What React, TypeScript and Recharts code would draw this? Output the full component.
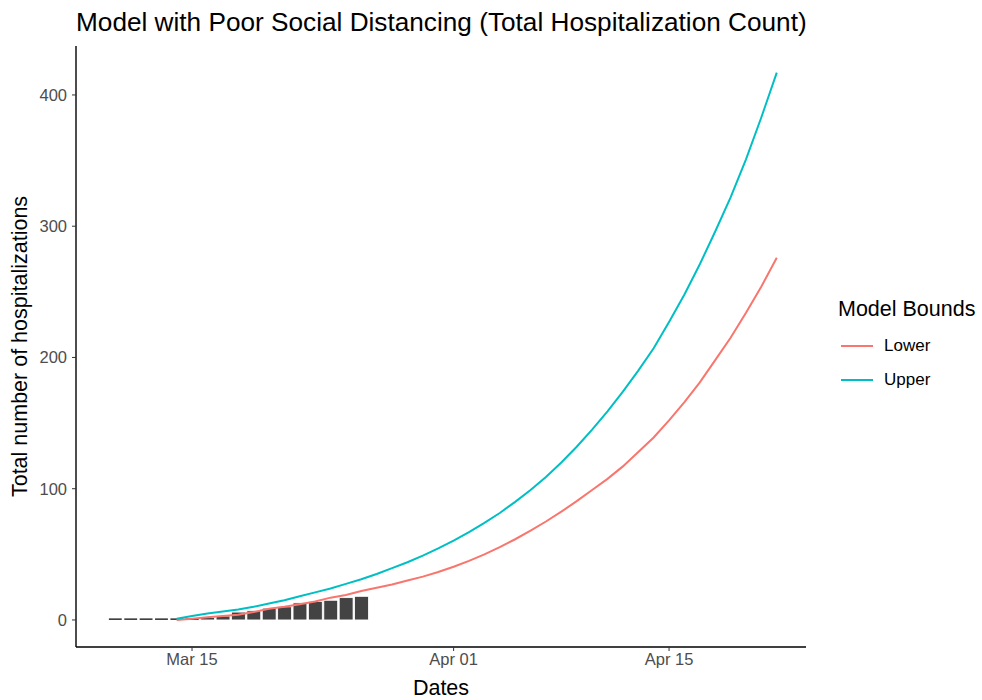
import React from 'react';
import { ComposedChart, Bar, Line, XAxis, YAxis } from 'recharts';

// Observed cumulative hospitalizations (bars)
const barDates = [
  '2020-03-10', '2020-03-11', '2020-03-12', '2020-03-13', '2020-03-14', '2020-03-15',
  '2020-03-16', '2020-03-17', '2020-03-18', '2020-03-19', '2020-03-20', '2020-03-21',
  '2020-03-22', '2020-03-23', '2020-03-24', '2020-03-25', '2020-03-26',
];
const barCounts = [0, 0, 0, 0, 1, 1, 2, 3, 6, 7, 9, 10, 13, 14, 15, 17, 18];

// Model bounds (lines)
const lineDates = [
  '2020-03-14', '2020-03-15', '2020-03-16', '2020-03-17', '2020-03-18', '2020-03-19',
  '2020-03-20', '2020-03-21', '2020-03-22', '2020-03-23', '2020-03-24', '2020-03-25',
  '2020-03-26', '2020-03-27', '2020-03-28', '2020-03-29', '2020-03-30', '2020-03-31',
  '2020-04-01', '2020-04-02', '2020-04-03', '2020-04-04', '2020-04-05', '2020-04-06',
  '2020-04-07', '2020-04-08', '2020-04-09', '2020-04-10', '2020-04-11', '2020-04-12',
  '2020-04-13', '2020-04-14', '2020-04-15', '2020-04-16', '2020-04-17', '2020-04-18',
  '2020-04-19', '2020-04-20', '2020-04-21', '2020-04-22',
];
const lowerValues = [
  0, 1, 2, 3, 4, 6, 8.5, 10, 12, 14, 17, 19, 22, 24.5, 27, 30, 33, 36.5,
  40.5, 45, 50, 55.5, 61.5, 68, 75, 82.5, 90.5, 99, 107.5, 117, 128, 139, 152, 166,
  181, 198, 215, 234, 254, 276,
];
const upperValues = [
  1, 3, 5, 6.5, 8, 10, 12.5, 15, 18, 21, 24, 27.5, 31, 35, 39.5, 44, 49, 54.5,
  60.5, 67, 74, 81.5, 90, 99, 109, 120, 132, 145, 159, 174, 190, 207, 227, 248,
  271, 296, 322, 351, 383, 417,
];

// Axis ticks
const xTickDates = ['2020-03-15', '2020-04-01', '2020-04-15'];
const xTickLabels = ['Mar 15', 'Apr 01', 'Apr 15'];
const yTicks = [0, 100, 200, 300, 400];

const REF = Date.UTC(2020, 2, 15);
const toDay = (s: string) => {
  const [y, m, d] = s.split('-').map(Number);
  return Math.round((Date.UTC(y, m - 1, d) - REF) / 86400000);
};

const dayMap = new Map<number, any>();
barDates.forEach((d, i) => {
  const k = toDay(d);
  dayMap.set(k, { ...(dayMap.get(k) || { day: k }), count: barCounts[i] });
});
lineDates.forEach((d, i) => {
  const k = toDay(d);
  dayMap.set(k, { ...(dayMap.get(k) || { day: k }), lower: lowerValues[i], upper: upperValues[i] });
});
const data = Array.from(dayMap.values()).sort((a, b) => a.day - b.day);

const xTicks = xTickDates.map(toDay);
const tickLabelFor = (v: number) => xTickLabels[xTicks.indexOf(v)] ?? '';

const FONT = '"Liberation Sans", Arial, Helvetica, sans-serif';
const RED = '#F8766D';
const TEAL = '#00BFC4';

const BarShape = (props: any) => {
  const { x, y, width, height } = props;
  if (x == null || width == null) return null;
  const bottom = y + height;
  if (height < 2) {
    return <rect x={x + 0.5} y={bottom - 1.6} width={width - 1} height={1.6} fill="#3a3a3a" />;
  }
  return <rect x={x} y={y} width={width} height={height} fill="#434343" stroke="#ffffff" strokeWidth={0.8} />;
};

export default function App() {
  return (
    <div style={{ position: 'absolute', left: 0, top: 0, width: 982, height: 700, background: '#fff', fontFamily: FONT }}>
      <div style={{ position: 'absolute', left: 76, top: 9, fontSize: 26.2, lineHeight: '26px', color: '#000', whiteSpace: 'nowrap' }}>
        Model with Poor Social Distancing (Total Hospitalization Count)
      </div>
      <ComposedChart
        width={982}
        height={700}
        data={data}
        margin={{ top: 46, right: 176, bottom: 0, left: 0 }}
        style={{ position: 'absolute', left: 0, top: 0 }}
      >
        <XAxis
          dataKey="day"
          type="number"
          domain={[-7.54, 39.9]}
          ticks={xTicks}
          tickFormatter={tickLabelFor}
          allowDataOverflow
          height={53}
          tickSize={4}
          tickMargin={2}
          stroke="#000"
          strokeWidth={1.4}
          tick={{ fontSize: 16.5, fill: '#4d4d4d', fontFamily: FONT }}
          tickLine={{ stroke: '#333', strokeWidth: 1 }}
          label={{
            content: (p: any) => {
              const vb = p.viewBox;
              return (
                <text x={vb.x + vb.width / 2} y={vb.y + 48} textAnchor="middle" fontSize={21.5} fill="#000" fontFamily={FONT}>
                  Dates
                </text>
              );
            },
          }}
        />
        <YAxis
          type="number"
          domain={[-20.6, 437.3]}
          ticks={yTicks}
          allowDataOverflow
          width={76}
          tickSize={4}
          tickMargin={5}
          stroke="#000"
          strokeWidth={1.4}
          tick={{ fontSize: 16.5, fill: '#4d4d4d', fontFamily: FONT }}
          tickLine={{ stroke: '#333', strokeWidth: 1 }}
          label={{
            content: (p: any) => {
              const vb = p.viewBox;
              const cy = vb.y + vb.height / 2;
              const cx = 27;
              return (
                <text x={cx} y={cy} transform={`rotate(-90, ${cx}, ${cy})`} textAnchor="middle" fontSize={21.5} fill="#000" fontFamily={FONT}>
                  Total number of hospitalizations
                </text>
              );
            },
          }}
        />
        <Bar dataKey="count" barSize={15.4} shape={<BarShape />} isAnimationActive={false} />
        <Line dataKey="lower" type="linear" stroke={RED} strokeWidth={2} dot={false} activeDot={false} isAnimationActive={false} />
        <Line dataKey="upper" type="linear" stroke={TEAL} strokeWidth={2} dot={false} activeDot={false} isAnimationActive={false} />
      </ComposedChart>
      <div style={{ position: 'absolute', left: 838, top: 296, color: '#000' }}>
        <div style={{ fontSize: 21.5, lineHeight: '26px', whiteSpace: 'nowrap' }}>Model Bounds</div>
        {[
          { name: 'Lower', color: RED },
          { name: 'Upper', color: TEAL },
        ].map((it, i) => (
          <div key={it.name} style={{ position: 'absolute', left: 0, top: 38 + i * 34, height: 24, display: 'flex', alignItems: 'center' }}>
            <svg width={40} height={24} style={{ display: 'block' }}>
              <line x1={3} x2={35} y1={12} y2={12} stroke={it.color} strokeWidth={2} />
            </svg>
            <span style={{ fontSize: 17, marginLeft: 6, whiteSpace: 'nowrap' }}>{it.name}</span>
          </div>
        ))}
      </div>
    </div>
  );
}
